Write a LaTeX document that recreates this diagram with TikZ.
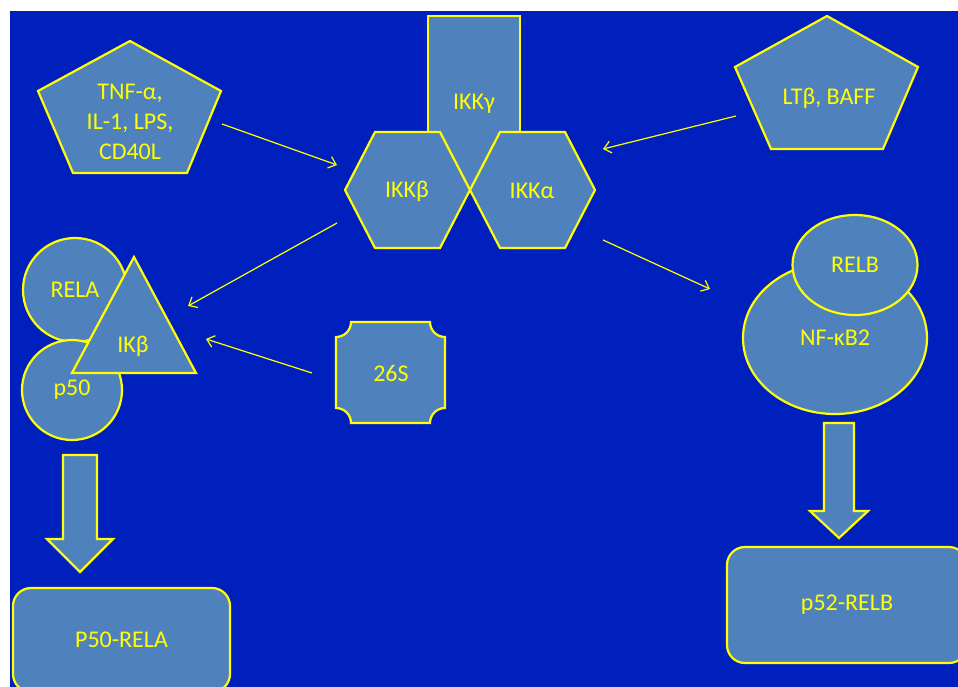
\documentclass[tikz,border=0pt]{standalone}
\usepackage{fontspec}
\setmainfont{Carlito}
\usetikzlibrary{shapes.geometric,arrows.meta}

\definecolor{bgblue}{RGB}{0,32,190}
\definecolor{cellblue}{RGB}{79,129,189}
\definecolor{lineyellow}{RGB}{255,255,0}

\tikzset{
	shapebox/.style={draw=lineyellow, fill=cellblue, line width=2.2pt},
	molname/.style={text=lineyellow, font=\fontsize{24}{30}\selectfont, align=center},
	thin arrow/.style={draw=lineyellow, line width=1.2pt, -{Straight Barb[length=7pt,width=12pt]}},
}

\begin{document}
\begin{tikzpicture}[x=1pt,y=1pt,yscale=-1]
		
		\useasboundingbox (0,0) rectangle (958,686);
		\fill[bgblue] (10,11) rectangle (975,700);
		
		% ligands
		\draw[shapebox] (130,41) -- (221,91) -- (187,173) -- (73,173) -- (38,91) -- cycle;
		\node[molname] (tnf) at (130,122) {TNF-α,\\IL-1, LPS,\\CD40L};
		
		\draw[shapebox] (827,16) -- (918,67) -- (883,149) -- (771,149) -- (735,67) -- cycle;
		\node[molname] (ltb) at (829,98) {LTβ, BAFF};
		
		% IKK complex
		\draw[shapebox] (428,16) rectangle (520,190);
		\node[molname] (ikkg) at (474,104) {IKKγ};
		
		\foreach \dx/\name/\txt in {0/ikkb/IKKβ, 125/ikka/IKKα} {
			\draw[shapebox] (345+\dx,190) -- (375+\dx,132) -- (440+\dx,132)
				-- (470+\dx,190) -- (440+\dx,248) -- (375+\dx,248) -- cycle;
			\node[molname] (\name) at (407+\dx,191) {\txt};
		}
		
		% canonical side
		\node[shapebox, circle, minimum size=104pt, molname] (rela) at (75,290) {RELA};
		\node[shapebox, circle, minimum size=100pt, molname] (p50) at (72,390) {p50};
		\draw[shapebox] (134,257) -- (196,373) -- (72,373) -- cycle;
		\node[molname] (ikb) at (133,346) {IKβ};
		
		\draw[shapebox] (351,322) -- (430,322) arc (180:90:15) -- (445,408) arc (270:180:15)
			-- (351,423) arc (0:-90:15) -- (336,337) arc (90:0:15) -- cycle;
		\node[molname] (p26s) at (391,373) {26S};
		
		% non-canonical side
		\node[shapebox, ellipse, minimum width=184pt, minimum height=152pt, molname] (nfkb2) at (835,338) {NF-κB2};
		\node[shapebox, ellipse, minimum width=125pt, minimum height=100pt, molname] (relb) at (855,265) {RELB};
		
		% block arrows
		\draw[shapebox] (63,455) -- (97,455) -- (97,539) -- (113,539) -- (80,572)
			-- (47,539) -- (63,539) -- cycle;
		\draw[shapebox] (824,423) -- (854,423) -- (854,511) -- (868,511) -- (839,538)
			-- (810,511) -- (824,511) -- cycle;
		
		\node[shapebox, rounded corners=18pt, minimum width=217pt, minimum height=104pt, molname] (p50rela) at (121.5,640) {P50-RELA};
		\node[shapebox, rounded corners=18pt, minimum width=240pt, minimum height=116pt, molname] (p52relb) at (847,605) {p52-RELB};
		
		% signalling arrows
		\coordinate (tnf-out) at (222,124);
		\coordinate (ikkb-in) at (337,165);
		\coordinate (ltb-out) at (736,116);
		\coordinate (ikka-in) at (603,149);
		\coordinate (ikk-out) at (337,223);
		\coordinate (ikb-in) at (188,306);
		\coordinate (p26s-out) at (312,373);
		\coordinate (ikb-in2) at (206,339);
		\coordinate (ikk-out2) at (603,240);
		\coordinate (nfkb2-in) at (710,289);
		
		\foreach \a/\b in {tnf-out/ikkb-in, ltb-out/ikka-in, ikk-out/ikb-in, p26s-out/ikb-in2, ikk-out2/nfkb2-in}
		\draw[thin arrow] (\a) -- (\b);
		
	\end{tikzpicture}
\end{document}
